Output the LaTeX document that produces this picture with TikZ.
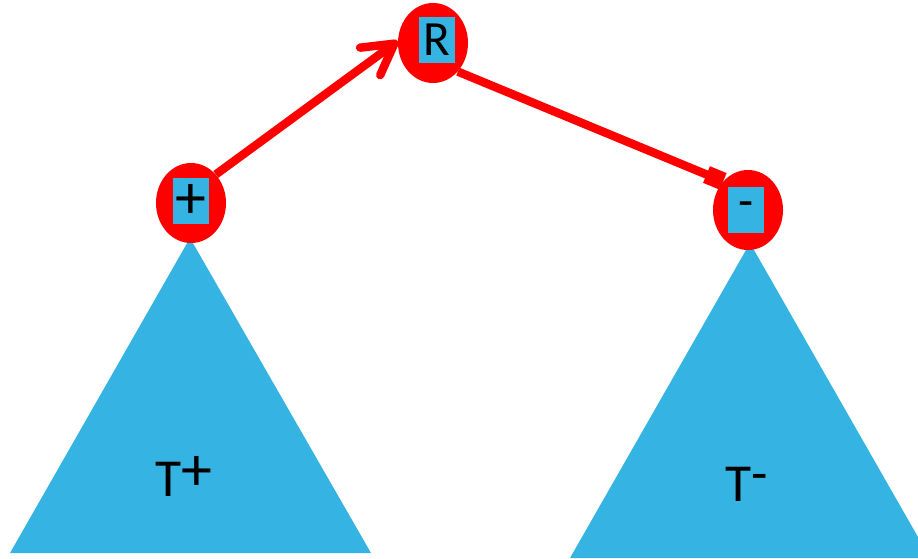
\documentclass[tikz,border=0pt]{standalone}
\usepackage{fontspec}
\setmainfont{Carlito}
\usetikzlibrary{arrows.meta,shapes.geometric}
\definecolor{treeblue}{RGB}{53,179,227}
\definecolor{treered}{RGB}{255,0,0}

\begin{document}
\begin{tikzpicture}[x=0.025cm,y=-0.025cm,
  knot/.style={ellipse,fill=treered,minimum width=1.75cm,minimum height=2cm,inner sep=0pt},
  tag/.style={fill=treeblue,minimum width=0.9cm,minimum height=1.15cm,inner sep=0pt,font=\fontsize{35}{35}\selectfont},
  link/.style={draw=treered,line width=6pt}]
\useasboundingbox (0,0) rectangle (918,558);
\clip (0,0) rectangle (918,558);
% 子树 T+ 与 T-
\fill[treeblue] (190,238) -- (371,553) -- (10,553) -- cycle;
\fill[treeblue] (750,243) -- (930,558) -- (570,558) -- cycle;
\node[anchor=base west,inner sep=0pt,font=\fontsize{38}{38}\selectfont] (Tplus) at (155,496) {T\raisebox{4pt}{\fontsize{44}{44}\selectfont +}};
\node[anchor=base west,inner sep=0pt,font=\fontsize{38}{38}\selectfont] (Tminus) at (725,501) {T\raisebox{7pt}{-}};
% 三个结点（红色椭圆 + 蓝色标签）
\node[knot] (R) at (433,43) {};
\node[tag] (Rtag) at (437,40) {R};
\node[knot] (plus) at (191,203) {};
\node[tag,font=\fontsize{44}{44}\selectfont] (plustag) at (191,201) {+};
\node[knot] (minus) at (748,210) {};
\node[tag] (minustag) at (746,210) {-};
% 连线
\draw[link,-{Straight Barb[round,length=7.5mm,width=8.5mm]}] (plus.49) -- (R.177);
\draw[link,-{Square[length=4.5mm,width=4.5mm]}] (R.311) -- (minus.131);
\end{tikzpicture}
\end{document}
